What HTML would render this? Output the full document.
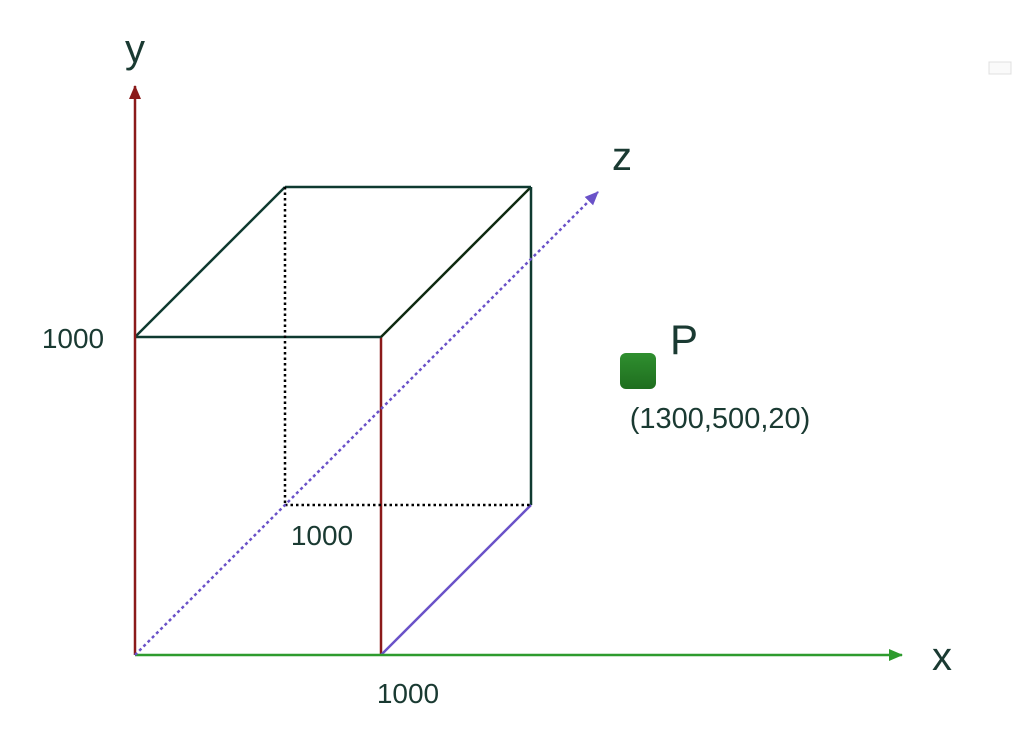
<!DOCTYPE html>
<html><head><meta charset="utf-8"><style>
html,body{margin:0;padding:0;background:#fff;}
svg{display:block;font-family:"Liberation Sans",sans-serif;}
</style></head><body>
<svg width="1018" height="732" viewBox="0 0 1018 732">
<defs>
<marker id="ay" markerWidth="14" markerHeight="14" refX="13" refY="7" orient="auto" markerUnits="userSpaceOnUse"><path d="M0,1 L14,7 L0,13 z" fill="#8b1a1a"/></marker>
<marker id="ax" markerWidth="14" markerHeight="14" refX="13" refY="7" orient="auto" markerUnits="userSpaceOnUse"><path d="M0,1 L14,7 L0,13 z" fill="#2e9b2e"/></marker>
<marker id="az" markerWidth="14" markerHeight="14" refX="13" refY="7" orient="auto" markerUnits="userSpaceOnUse"><path d="M0,1 L14,7 L0,13 z" fill="#6a52c8"/></marker>
<linearGradient id="g" x1="0" y1="0" x2="0" y2="1"><stop offset="0" stop-color="#2f8f2f"/><stop offset="1" stop-color="#1f6e1f"/></linearGradient>
</defs>
<g id="lines"></g>
<line x1="135" y1="655" x2="135" y2="86" stroke="#8b1a1a" stroke-width="2.5" marker-end="url(#ay)"/>
<line x1="135" y1="655" x2="902" y2="655" stroke="#2e9b2e" stroke-width="2.5" marker-end="url(#ax)"/>
<line x1="135" y1="655" x2="598" y2="192" stroke="#6a52c8" stroke-width="2.5" stroke-dasharray="3,3" marker-end="url(#az)"/>
<text x="135" y="62" font-size="40" fill="#1a3a32" text-anchor="middle">y</text>
<text x="942" y="670" font-size="40" fill="#1a3a32" text-anchor="middle">x</text>
<text x="622" y="170" font-size="40" fill="#1a3a32" text-anchor="middle">z</text>
<text x="73" y="348" font-size="28" fill="#1a3a32" text-anchor="middle">1000</text>
<text x="322" y="545" font-size="28" fill="#1a3a32" text-anchor="middle">1000</text>
<text x="408" y="703" font-size="28" fill="#1a3a32" text-anchor="middle">1000</text>
<rect x="620" y="353" width="36" height="36" rx="6" fill="url(#g)"/>
<text x="670" y="354" font-size="42" fill="#1a3a32">P</text>
<text x="720" y="428" font-size="29" fill="#1a3a32" text-anchor="middle">(1300,500,20)</text>
<rect x="989" y="62" width="22" height="12" fill="#fafafa" stroke="#e0e0e0" stroke-width="1"/>
<script>
const cubeSize = [1000, 1000, 1000];
const ox = 135, oy = 655;
function px(x, y, z){ return [ox + x*0.246 + z*0.15, oy - y*0.318 - z*0.15]; }
const S = cubeSize;
const edges = [
 [[S[0],0,0],[S[0],S[1],0],'#8b1a1a',''],
 [[0,S[1],0],[S[0],S[1],0],'#0f3a30',''],
 [[0,S[1],0],[0,S[1],S[2]],'#0f3a30',''],
 [[S[0],S[1],0],[S[0],S[1],S[2]],'#0f2a10',''],
 [[0,S[1],S[2]],[S[0],S[1],S[2]],'#0f3a30',''],
 [[S[0],S[1],S[2]],[S[0],0,S[2]],'#0f3a30',''],
 [[S[0],0,0],[S[0],0,S[2]],'#6a52c8',''],
 [[0,S[1],S[2]],[0,0,S[2]],'#000','2.5,3'],
 [[0,0,S[2]],[S[0],0,S[2]],'#000','2.5,3']
];
const g = document.getElementById('lines');
edges.forEach((e,i)=>{
 const a = px(...e[0]), b = px(...e[1]);
 const l = document.createElementNS('http://www.w3.org/2000/svg','line');
 l.setAttribute('x1',a[0]); l.setAttribute('y1',a[1]);
 l.setAttribute('x2',b[0]); l.setAttribute('y2',b[1]);
 l.setAttribute('stroke',e[2]); l.setAttribute('stroke-width', 2.5);
 if(e[3]) l.setAttribute('stroke-dasharray',e[3]);
 
 
 g.appendChild(l);
});
</script>
</svg>
</body></html>
